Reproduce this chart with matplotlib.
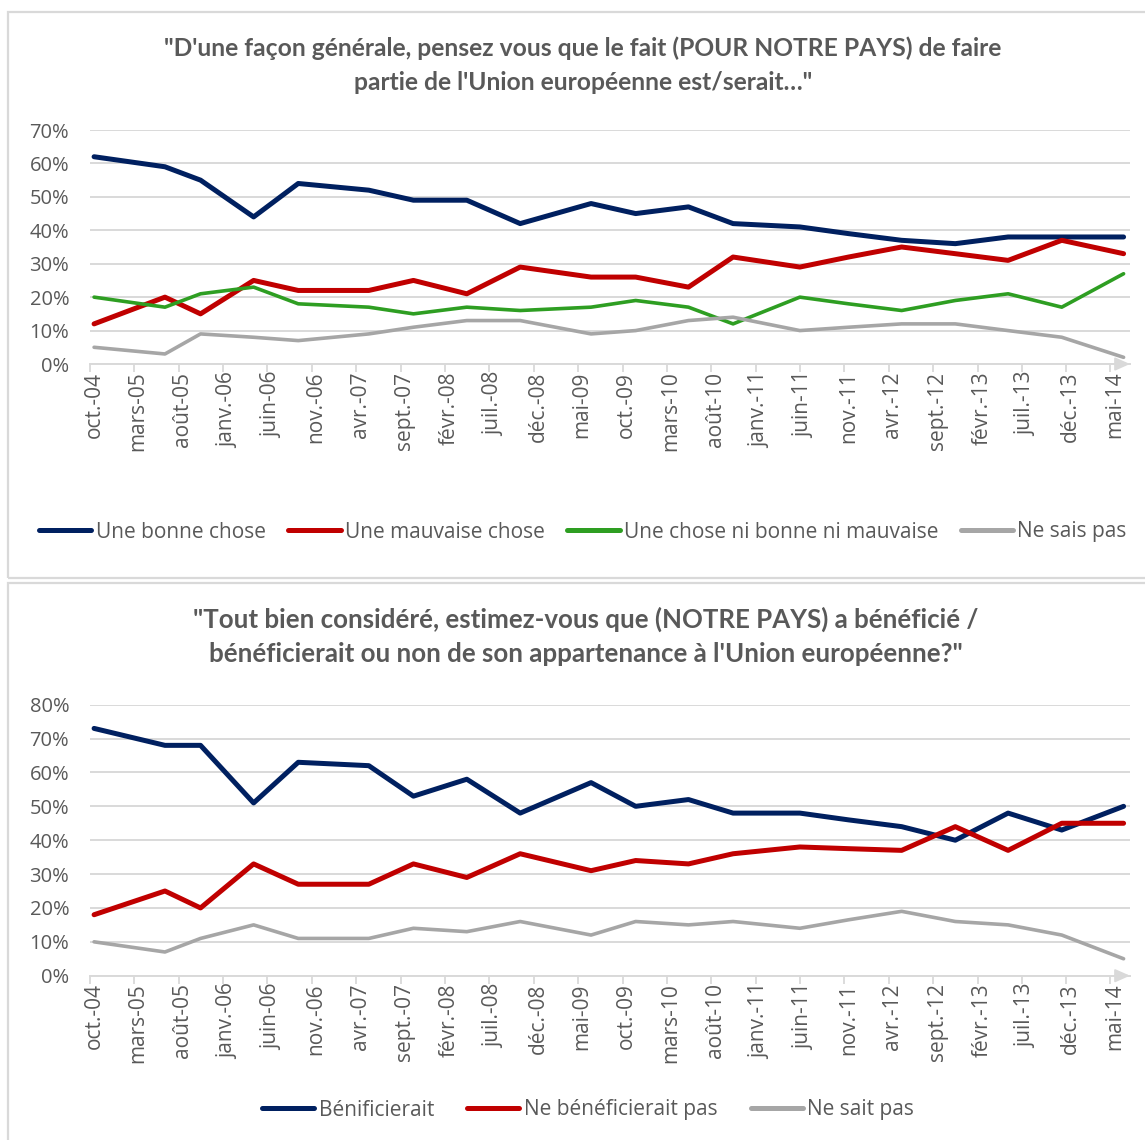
import matplotlib
matplotlib.use("Agg")
import matplotlib.pyplot as plt
from matplotlib.patches import Rectangle
from matplotlib.lines import Line2D
import pandas as pd

# ---------------- data ----------------
dates = ["2004-10-15", "2005-06-15", "2005-10-15", "2006-04-15", "2006-09-15",
         "2007-05-15", "2007-10-15", "2008-04-15", "2008-10-15", "2009-06-15",
         "2009-11-15", "2010-05-15", "2010-10-15", "2011-06-01", "2011-11-15",
         "2012-05-15", "2012-11-15", "2013-05-15", "2013-11-15", "2014-06-15"]

# panel 1
bonne    = [62, 59, 55, 44, 54, 52, 49, 49, 42, 48, 45, 47, 42, 41, 39, 37, 36, 38, 38, 38]
mauvaise = [12, 20, 15, 25, 22, 22, 25, 21, 29, 26, 26, 23, 32, 29, 32, 35, 33, 31, 37, 33]
ni_ni    = [20, 17, 21, 23, 18, 17, 15, 17, 16, 17, 19, 17, 12, 20, 18, 16, 19, 21, 17, 27]
nsp_1    = [5, 3, 9, 8, 7, 9, 11, 13, 13, 9, 10, 13, 14, 10, 11, 12, 12, 10, 8, 2]

# panel 2
benef     = [73, 68, 68, 51, 63, 62, 53, 58, 48, 57, 50, 52, 48, 48, 46, 44, 40, 48, 43, 50]
pas_benef = [18, 25, 20, 33, 27, 27, 33, 29, 36, 31, 34, 33, 36, 38, 37.5, 37, 44, 37, 45, 45]
nsp_2     = [10, 7, 11, 15, 11, 11, 14, 13, 16, 12, 16, 15, 16, 14, 16.5, 19, 16, 15, 12, 5]

tick_labels = ["oct.-04", "mars-05", "août-05", "janv.-06", "juin-06", "nov.-06",
               "avr.-07", "sept.-07", "févr.-08", "juil.-08", "déc.-08", "mai-09",
               "oct.-09", "mars-10", "août-10", "janv.-11", "juin-11", "nov.-11",
               "avr.-12", "sept.-12", "févr.-13", "juil.-13", "déc.-13", "mai-14"]

title1 = "\"D'une façon générale, pensez vous que le fait (POUR NOTRE PAYS) de faire\npartie de l'Union européenne est/serait…\""
title2 = "\"Tout bien considéré, estimez-vous que (NOTRE PAYS) a bénéficié /\nbénéficierait ou non de son appartenance à l'Union européenne?\""

labels1 = ["Une bonne chose", "Une mauvaise chose", "Une chose ni bonne ni mauvaise", "Ne sais pas"]
labels2 = ["Bénificierait", "Ne bénéficierait pas", "Ne sait pas"]

# ---------------- style ----------------
NAVY, RED, GREEN, GREY = "#002060", "#C00000", "#2E9E22", "#A6A6A6"
TXT = "#595959"
GRID = "#D9D9D9"
W, H = 1145, 1140
FONT = "Open Sans"
TFONT = "Lato"

x = pd.to_datetime(dates)
tick_pos = pd.date_range("2004-10-01", periods=len(tick_labels), freq="5MS")
label_pos = tick_pos + pd.Timedelta(days=14)
xmin, xmax = pd.Timestamp("2004-10-01"), pd.Timestamp("2014-07-07")

fig = plt.figure(figsize=(W / 100, H / 100), dpi=100)


def fx(px):
    return px / W


def fy(py):
    return 1 - py / H


def panel(top_px, bottom_px, ymax, series):
    ax = fig.add_axes([fx(90), fy(bottom_px), fx(1130) - fx(90), fy(top_px) - fy(bottom_px)])
    for vals, col, lw in series:
        ax.plot(x, vals, color=col, lw=lw, solid_capstyle="round",
                solid_joinstyle="round", clip_on=False, zorder=3)
    ax.set_ylim(0, ymax)
    ax.set_xlim(xmin, xmax)
    yt = list(range(0, ymax + 1, 10))
    ax.set_yticks(yt)
    ax.set_yticklabels([f"{v}%" for v in yt], fontsize=14.5, color=TXT, family=FONT)
    ax.set_xticks(label_pos)
    ax.set_xticklabels(tick_labels, rotation=90, fontsize=15, color=TXT, family=FONT,
                       ha="center", va="top")
    ax.set_xticks(tick_pos, minor=True)
    ax.grid(axis="y", color=GRID, lw=1.4, zorder=0)
    ax.set_axisbelow(True)
    for s in ("top", "right", "left"):
        ax.spines[s].set_visible(False)
    ax.spines["bottom"].set_color(GRID)
    ax.spines["bottom"].set_linewidth(1.4)
    ax.tick_params(axis="y", length=0, pad=15)
    ax.tick_params(axis="x", which="major", length=0, pad=5.5)
    ax.tick_params(axis="x", which="minor", length=6, width=1.3, color=GRID)
    ax.annotate("", xy=(1.0, 0), xycoords="axes fraction",
                xytext=(-15, 0), textcoords="offset pixels",
                arrowprops=dict(arrowstyle="-|>,head_length=0.9,head_width=0.4",
                                color=GRID, lw=1.4, shrinkA=0, shrinkB=0),
                annotation_clip=False)
    return ax


# boxes
fig.add_artist(Rectangle((fx(8), fy(578)), fx(1160) - fx(8), fy(12) - fy(578),
                         transform=fig.transFigure, fill=False, ec=GRID, lw=1.6))
fig.add_artist(Rectangle((fx(8), fy(1150)), fx(1160) - fx(8), fy(583) - fy(1150),
                         transform=fig.transFigure, fill=False, ec=GRID, lw=1.6))

# panel 1
panel(130, 364, 70, [(bonne, NAVY, 3.6), (mauvaise, RED, 3.6),
                     (ni_ni, GREEN, 2.6), (nsp_1, GREY, 2.6)])
fig.text(fx(583), fy(65), title1, ha="center", va="center", fontsize=17.7,
         fontweight="bold", color=TXT, family=TFONT, linespacing=1.55)
h1 = [Line2D([], [], color=c, lw=3.6, solid_capstyle="round") for c in (NAVY, RED, GREEN, GREY)]
fig.legend(h1, labels1, loc="center", bbox_to_anchor=(fx(583), fy(532)), ncol=4,
           frameon=False, handlelength=2.5, handletextpad=0.2, columnspacing=1.1,
           prop={"family": FONT, "size": 15}, labelcolor=TXT)

# panel 2
panel(704.7, 975.7, 80, [(benef, NAVY, 3.6), (pas_benef, RED, 3.6), (nsp_2, GREY, 2.6)])
fig.text(fx(586), fy(636), title2, ha="center", va="center", fontsize=18.6,
         fontweight="bold", color=TXT, family=TFONT, linespacing=1.5)
h2 = [Line2D([], [], color=c, lw=3.6, solid_capstyle="round") for c in (NAVY, RED, GREY)]
fig.legend(h2, labels2, loc="center", bbox_to_anchor=(fx(588), fy(1110)), ncol=3,
           frameon=False, handlelength=2.5, handletextpad=0.2, columnspacing=1.6,
           prop={"family": FONT, "size": 15}, labelcolor=TXT)

fig.savefig("out.png", dpi=100, facecolor="white")
